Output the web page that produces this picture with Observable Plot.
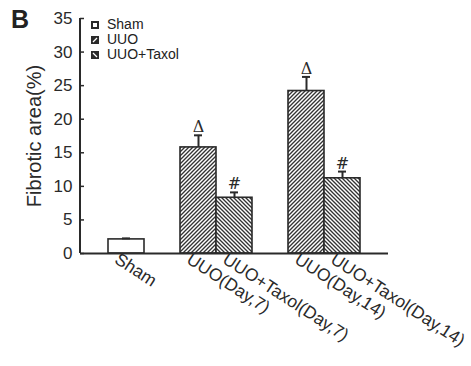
<!DOCTYPE html>
<html>
<head>
<meta charset="utf-8">
<script src="https://cdn.jsdelivr.net/npm/d3@7"></script>
<script src="https://cdn.jsdelivr.net/npm/@observablehq/plot@0.6"></script>
<style>
  html, body { margin: 0; padding: 0; background: #fff; }
  #wrap { position: relative; width: 471px; height: 366px; font-family: "Liberation Sans", Arial, sans-serif; color: #222; }
  #panel { position: absolute; left: 11px; top: 5px; font-weight: bold; font-size: 25px; }
  #legend { position: absolute; left: 91px; top: 17px; font-size: 14px; line-height: 15.2px; }
  #legend div { display: flex; align-items: center; height: 15.2px; }
  #legend svg { margin-right: 8px; }
</style>
</head>
<body>
<div id="wrap">
  <div id="chart"></div>
  <div id="panel">B</div>
  <div id="legend"></div>
</div>
<script>
// ---- data ----
const categories = ["Sham", "UUO(Day,7)", "UUO+Taxol(Day,7)", "UUO(Day,14)", "UUO+Taxol(Day,14)"];
const groups = ["Sham", "UUO", "UUO+Taxol", "UUO", "UUO+Taxol"];
const means = [2.1, 15.8, 8.3, 24.2, 11.2];
const errors = [0.15, 1.8, 0.8, 2.1, 1.0];
const marks = ["", "Δ", "#", "Δ", "#"];
const legendLabels = ["Sham", "UUO", "UUO+Taxol"];
const yTicks = [0, 5, 10, 15, 20, 25, 30, 35];

// band domain with empty spacer slots between time points
const domain = ["Sham", " gap1", "UUO(Day,7)", "UUO+Taxol(Day,7)", " gap2", "UUO(Day,14)", "UUO+Taxol(Day,14)"];
const fills = {"Sham": "white", "UUO": "url(#hatchA)", "UUO+Taxol": "url(#hatchB)"};

const data = categories.map((c, i) => ({
  cat: c, group: groups[i], mean: means[i], err: errors[i], top: means[i] + errors[i], mark: marks[i]
}));

const ink = "#2a2a2a";

function defs() {
  const svg = d3.create("svg:defs");
  const a = svg.append("pattern").attr("id", "hatchA").attr("patternUnits", "userSpaceOnUse")
    .attr("width", 4).attr("height", 4);
  a.append("rect").attr("width", 4).attr("height", 4).attr("fill", "white");
  a.append("path").attr("d", "M-1,1 l2,-2 M0,4 l4,-4 M3,5 l2,-2").attr("stroke", "#333").attr("stroke-width", 1.35);
  const b = svg.append("pattern").attr("id", "hatchB").attr("patternUnits", "userSpaceOnUse")
    .attr("width", 4).attr("height", 4);
  b.append("rect").attr("width", 4).attr("height", 4).attr("fill", "white");
  b.append("path").attr("d", "M-1,3 l2,2 M0,0 l4,4 M3,-1 l2,2").attr("stroke", "#333").attr("stroke-width", 1.35);
  return svg.node();
}

function leftAxisLine(index, scales, values, dimensions) {
  const {marginLeft, marginTop, height, marginBottom} = dimensions;
  return d3.create("svg:line")
    .attr("x1", marginLeft).attr("x2", marginLeft)
    .attr("y1", marginTop).attr("y2", height - marginBottom)
    .attr("stroke", ink).attr("stroke-width", 2).node();
}

const chart = Plot.plot({
  width: 471,
  height: 366,
  marginLeft: 80,
  marginRight: 83,
  marginTop: 18,
  marginBottom: 113,
  insetLeft: 26,
  insetRight: 27,
  style: {fontFamily: "Liberation Sans, Arial, sans-serif", color: ink, background: "white"},
  x: {type: "band", domain, padding: 0, axis: null},
  y: {domain: [0, 35], axis: null},
  color: {type: "identity"},
  marks: [
    defs,
    Plot.barY(data, {x: "cat", y: "mean", fill: d => fills[d.group], stroke: ink, strokeWidth: 1.6}),
    Plot.ruleX(data, {x: "cat", y1: "mean", y2: "top", stroke: ink, strokeWidth: 2}),
    Plot.tickY(data, {x: "cat", y: "top", stroke: ink, strokeWidth: 2, insetLeft: 14, insetRight: 14}),
    Plot.text(data, {x: "cat", y: "top", text: "mark", lineAnchor: "bottom", dy: -3,
      fontFamily: "DejaVu Serif, Liberation Serif, serif", fontSize: 16, fill: ink}),
    Plot.axisY({ticks: yTicks, tickSize: -4, tickPadding: 12, fontSize: 17, stroke: ink, strokeWidth: 1.5, label: null}),
    Plot.axisX({ticks: categories, tickSize: 0, tickRotate: 33, fontSize: 17.5, tickPadding: 4, dx: -10, label: null}),
    Plot.ruleY([0], {stroke: ink, strokeWidth: 2}),
    leftAxisLine,
    Plot.text(["Fibrotic area(%)"], {frameAnchor: "left", textAnchor: "middle", dx: -46, rotate: -90, fontSize: 20, fill: ink, text: d => d})
  ]
});
document.getElementById("chart").appendChild(chart);

// legend
const legend = d3.select("#legend");
legendLabels.forEach(l => {
  const row = legend.append("div");
  const s = row.append("svg").attr("width", 8).attr("height", 8);
  if (l === "Sham") {
    s.append("rect").attr("x", 1).attr("y", 1).attr("width", 6).attr("height", 6)
      .attr("fill", "white").attr("stroke", ink).attr("stroke-width", 2);
  } else {
    s.append("rect").attr("width", 8).attr("height", 8).attr("fill", ink);
    s.append("path").attr("d", l === "UUO" ? "M2,6 L6,2" : "M2,2 L6,6")
      .attr("stroke", "white").attr("stroke-width", 1.2);
  }
  row.append("span").text(l);
});
</script>
</body>
</html>
